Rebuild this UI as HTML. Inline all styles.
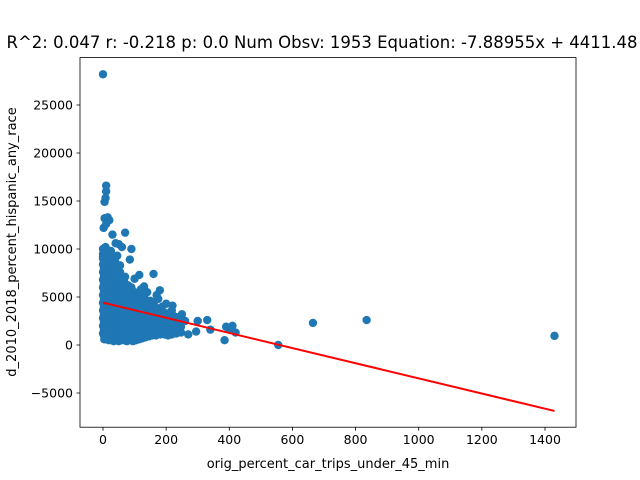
<!DOCTYPE html>
<html><head><meta charset="utf-8">
<style>
body{margin:0;background:#fff;}
svg{display:block;font-family:"DejaVu Sans","Liberation Sans",sans-serif;}
</style></head>
<body>
<svg id="chart" width="640" height="480" viewBox="0 0 640 480">
<rect width="640" height="480" fill="#fff"/>
<text x="322" y="48" font-size="16.5" text-anchor="middle" fill="#000">R^2: 0.047 r: -0.218 p: 0.0 Num Obsv: 1953 Equation: -7.88955x + 4411.48</text>
<g id="points"></g>
<g id="fit"></g>
<rect x="80" y="57.6" width="496" height="369.6" fill="none" stroke="#000" stroke-width="0.8"/>
<g id="xticks"></g>
<g id="yticks"></g>
<text x="328" y="468" font-size="13" text-anchor="middle">orig_percent_car_trips_under_45_min</text>
<text transform="translate(16,242) rotate(-90)" font-size="13" text-anchor="middle">d_2010_2018_percent_hispanic_any_race</text>
</svg>
<script>
const colX=[0,3,8,15,22,30,38,46,54,62,70,80,90,100,110,120,130,140,150,162,175,188,200,212,225,240,
4,11,18,26,34,42,50,58,66,75,85,95,105,115,125,135,145,156,168,182,195,206,218,232,247];
const colY=[
[1200,2000,2800,3600,4400,5200,6000,6800,7600,8400,9200,10000],
[1000,1600,2400,3200,4000,4800,5600,6400,7200,8000,8800,9600],
[900,1500,2200,3000,3800,4600,5400,6200,7000,7800,8600,9400,10200],
[1000,1800,2600,3400,4200,5000,5800,6600,7400,8200,9000,9800],
[800,1500,2300,3100,3900,4700,5500,6300,7100,7900,8700,9400],
[700,1400,2200,3000,3800,4600,5400,6200,7000,7800,8600],
[800,1600,2400,3200,4000,4800,5600,6400,7200,8000,8800],
[700,1400,2200,3000,3800,4600,5400,6200,7000,7800],
[600,1300,2100,2900,3700,4500,5300,6100,6900,7600,8300],
[700,1500,2300,3100,3900,4700,5500,6300,7000],
[800,1600,2400,3200,4000,4800,5600,6400,7100],
[700,1400,2200,3000,3800,4600,5400,6200],
[600,1300,2100,2900,3700,4500,5300,6000],
[800,1600,2400,3200,4000,4800,5500],
[700,1500,2300,3100,3900,4600,5200],
[900,1700,2500,3300,4100,4800],
[1000,1800,2600,3400,4200,5100],
[1200,2000,2800,3600,4400],
[1100,1900,2700,3500,4600],
[1300,2100,2900,3600,4500],
[1200,2000,2800,3500,4800],
[1400,2200,3000,4000],
[1300,2000,2700,3300],
[1200,1900,2600,3300],
[1500,2300,3000],
[1400,2100,2800],
[600,1400,2200,3000,3800,4600,5400,6200,7000,7800,8600,9400],
[600,1300,2000,2800,3600,4400,5200,6000,6800,7600,8400,9200],
[500,1200,2000,2800,3600,4400,5200,6000,6800,7600,8400,9200],
[500,1100,1900,2700,3500,4300,5100,5900,6700,7500,8300],
[400,1000,1800,2600,3400,4200,5000,5800,6600,7400,8200],
[500,1100,1800,2600,3400,4200,5000,5800,6600,7400],
[400,1000,1700,2500,3300,4100,4900,5700,6500,7300],
[500,1100,1900,2700,3500,4300,5100,5900,6700],
[500,1200,2000,2800,3600,4400,5200,6000,6700],
[400,1100,1800,2600,3400,4200,5000,5800],
[500,1000,1700,2500,3300,4100,4900,5600],
[400,1200,2000,2800,3600,4400,5100],
[500,1100,1900,2700,3500,4200,4900],
[600,1300,2100,2900,3700,4500],
[700,1400,2200,3000,3800,4600],
[800,1600,2400,3200,4000,4700],
[900,1600,2400,3200,4000],
[1000,1700,2500,3300,4100],
[1000,1700,2500,3200,3900],
[1100,1800,2600,3400],
[1100,1800,2500,3100],
[1000,1600,2300,3000],
[1100,1700,2400,3600],
[1200,2000,2700],
[1300,1900,2600]];
const outlierX=[0,555,665,835,1430,420,410,400,385,390,330,340,300,295,270,260,250,240,230,220,215,180,160,115,70,90,10,10,8,5,5,15,20,2,10,30,40,50,60,0,0,25,45,85,100,130,140,120,200,170];
const outlierY=[28200,0,2300,2600,950,1300,2000,1700,500,1900,2600,1600,2500,1400,1100,2500,3200,2900,2000,4100,1100,5700,7400,7300,11700,10000,16600,16000,15300,14900,13200,13300,13000,12200,12600,11500,10600,10500,10200,9500,9000,9800,9300,8900,6900,6100,5500,5800,4300,5200];
const slope=-7.88955, intercept=4411.48;
const xTicks=[0,200,400,600,800,1000,1200,1400];
const yTicks=[-5000,0,5000,10000,15000,20000,25000];

const NS="http://www.w3.org/2000/svg";
function sx(v){return 103+v*(442/1400);}
function sy(v){return 345-v*0.0096;}
const xs=[],ys=[];
colX.forEach((x,i)=>colY[i].forEach(y=>{xs.push(x);ys.push(y);}));
outlierX.forEach((x,i)=>{xs.push(x);ys.push(outlierY[i]);});
const pg=document.getElementById('points');
xs.forEach((x,i)=>{
  const c=document.createElementNS(NS,'circle');
  c.setAttribute('cx',sx(x));c.setAttribute('cy',sy(ys[i]));c.setAttribute('r',4.2);c.setAttribute('fill','#1f77b4');
  
  
  pg.appendChild(c);
});
const xmin=Math.min(...xs),xmax=Math.max(...xs);
const ln=document.createElementNS(NS,'line');
ln.setAttribute('x1',sx(xmin));ln.setAttribute('y1',sy(slope*xmin+intercept));
ln.setAttribute('x2',sx(xmax));ln.setAttribute('y2',sy(slope*xmax+intercept));
ln.setAttribute('stroke','#ff0000');ln.setAttribute('stroke-width',2);


document.getElementById('fit').appendChild(ln);
const xg=document.getElementById('xticks');
xTicks.forEach(t=>{
  const l=document.createElementNS(NS,'line');
  l.setAttribute('x1',sx(t));l.setAttribute('x2',sx(t));l.setAttribute('y1',427.2);l.setAttribute('y2',430.7);l.setAttribute('stroke','#000');l.setAttribute('stroke-width',0.8);
  
  
  xg.appendChild(l);
  const tx=document.createElementNS(NS,'text');
  tx.setAttribute('x',sx(t));tx.setAttribute('y',444);tx.setAttribute('font-size','12.5');tx.setAttribute('text-anchor','middle');
  tx.textContent=t;
  
  
  xg.appendChild(tx);
});
const yg=document.getElementById('yticks');
yTicks.forEach(t=>{
  const l=document.createElementNS(NS,'line');
  l.setAttribute('x1',76.5);l.setAttribute('x2',80);l.setAttribute('y1',sy(t));l.setAttribute('y2',sy(t));l.setAttribute('stroke','#000');l.setAttribute('stroke-width',0.8);
  
  
  yg.appendChild(l);
  const tx=document.createElementNS(NS,'text');
  tx.setAttribute('x',73);tx.setAttribute('y',sy(t)+4.5);tx.setAttribute('font-size','12.5');tx.setAttribute('text-anchor','end');
  tx.textContent=t<0?'\u2212'+Math.abs(t):t;
  
  
  yg.appendChild(tx);
});
</script>
</body></html>
